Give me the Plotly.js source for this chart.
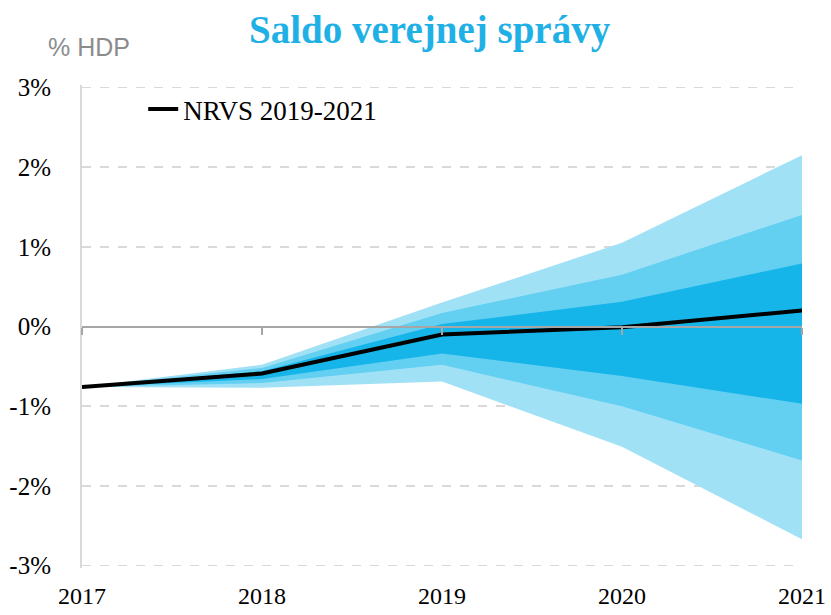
<!DOCTYPE html>
<html><head><meta charset="utf-8">
<script src="https://cdn.plot.ly/plotly-3.0.1.min.js"></script>
<style>body{margin:0;background:#fff}#c{width:831px;height:615px}</style>
</head><body><div id="c"></div>
<script>
const years = [2017, 2018, 2019, 2020, 2021];
const median = [-0.76, -0.59, -0.10, -0.01, 0.20];
const outerUpper = [-0.76, -0.48, 0.30, 1.05, 2.15];
const outerLower = [-0.76, -0.77, -0.69, -1.51, -2.67];
const midUpper = [-0.76, -0.52, 0.17, 0.65, 1.40];
const midLower = [-0.76, -0.71, -0.48, -1.00, -1.68];
const innerUpper = [-0.76, -0.56, 0.03, 0.31, 0.79];
const innerLower = [-0.76, -0.66, -0.34, -0.62, -0.97];
const yTicks = [-3, -2, -1, 0, 1, 2, 3];
const yTickLabels = ['-3%', '-2%', '-1%', '0%', '1%', '2%', '3%'];
const xTickLabels = ['2017', '2018', '2019', '2020', '2021'];
const seriesName = 'NRVS 2019-2021';

function band(up, lo, color) {
  return {
    x: years.concat(years.slice().reverse()),
    y: up.concat(lo.slice().reverse()),
    type: 'scatter', mode: 'lines', fill: 'toself', fillcolor: color,
    line: {width: 0, color: color}, showlegend: false, hoverinfo: 'skip'
  };
}
const serif = '"Liberation Serif", "DejaVu Serif", serif';
const traces = [
  band(outerUpper, outerLower, '#a1e1f6'),
  band(midUpper, midLower, '#63cff1'),
  band(innerUpper, innerLower, '#15b5ea'),
  {x: years, y: years.map(() => null), xaxis: 'x2', type: 'scatter', mode: 'lines', showlegend: false, hoverinfo: 'skip'},
  {x: years, y: median, type: 'scatter', mode: 'lines', name: seriesName,
   line: {color: '#000000', width: 4}}
];
const layout = {
  width: 831, height: 615,
  margin: {l: 82, r: 29, t: 85, b: 47},
  paper_bgcolor: '#fff', plot_bgcolor: '#fff',
  font: {family: serif, size: 25, color: '#000'},
  title: {text: '<b>Saldo verejnej správy</b>', x: 0.517, xanchor: 'center', y: 0.952, yanchor: 'middle',
          font: {family: serif, size: 39, color: '#1fb1e6'}},
  showlegend: true,
  legend: {x: 0.085, y: 1.0, xanchor: 'left', yanchor: 'top', bgcolor: 'rgba(0,0,0,0)',
           font: {family: serif, size: 27, color: '#000'}},
  xaxis: {range: [2017, 2021], tickvals: years, ticktext: xTickLabels, showgrid: false,
          zeroline: false, showline: false, ticks: '', ticklabelstandoff: 11,
          tickfont: {family: serif, size: 24, color: '#000'}},
  xaxis2: {range: [2017, 2021], overlaying: 'x', anchor: 'free', position: 0.5, side: 'bottom',
           tickvals: years, showticklabels: false, ticks: 'outside', ticklen: 7, tickwidth: 2,
           tickcolor: '#a6a6a6', showline: true, linecolor: '#a6a6a6', linewidth: 2,
           showgrid: false, zeroline: false},
  yaxis: {range: [-3.03, 3.03], tickvals: yTicks, ticktext: yTickLabels, showgrid: true,
          gridcolor: '#d9d9d9', gridwidth: 1.5, griddash: 'dash', zeroline: false,
          showline: true, linecolor: '#d9d9d9', linewidth: 2, ticks: '', ticklabelstandoff: 24,
          tickfont: {family: serif, size: 25, color: '#000'}},
  annotations: [{text: '% HDP', xref: 'paper', yref: 'paper', x: -0.05, y: 1.078,
                 xanchor: 'left', yanchor: 'middle', showarrow: false,
                 font: {family: '"Liberation Sans Narrow", "Liberation Sans", sans-serif', size: 25, color: '#8c8c8c'}}]
};
Plotly.newPlot('c', traces, layout, {displayModeBar: false, staticPlot: true});
</script></body></html>
